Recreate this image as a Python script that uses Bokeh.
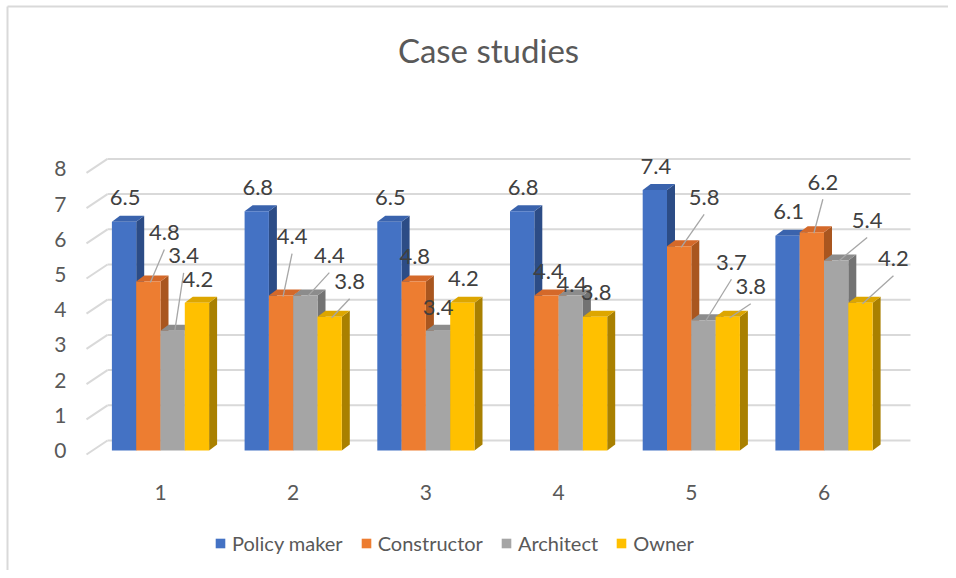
from bokeh.plotting import figure
from bokeh.models import Range1d, FixedTicker, Legend, LegendItem, Label
from bokeh.core.properties import value
from bokeh.embed import file_html
from bokeh.resources import INLINE

# ---------------- data ----------------
categories = [1, 2, 3, 4, 5, 6]
series_names = ["Policy maker", "Constructor", "Architect", "Owner"]
policy_maker = [6.5, 6.8, 6.5, 6.8, 7.4, 6.1]
constructor = [4.8, 4.4, 4.8, 4.4, 5.8, 6.2]
architect = [3.4, 4.4, 3.4, 4.4, 3.7, 5.4]
owner = [4.2, 3.8, 4.2, 3.8, 3.8, 4.2]
y_ticks = [0, 1, 2, 3, 4, 5, 6, 7, 8]
series_values = [policy_maker, constructor, architect, owner]
title_text = "Case studies"

# ---------------- style / layout ----------------
FONT = "Lato"
front_colors = ["#4472C4", "#ED7D31", "#A5A5A5", "#FFC000"]
top_colors = ["#3A63AD", "#D4692A", "#8C8C8C", "#DDA600"]
side_colors = ["#2C4C86", "#A9561F", "#737373", "#A98000"]

# data-label layout: (dx px, dy px from bar top, leader line?)
label_layout = [
    [(1, -24, 0), (1, -24, 0), (1, -24, 0), (1, -24, 0), (1, -24, 0), (1, -24, 0)],
    [(16, -49, 1), (11, -59, 1), (1, -25, 0), (2, -24, 0), (25, -49, 1), (11, -50, 1)],
    [(11, -75, 1), (24, -40, 1), (0, -23, 0), (1, -11, 0), (28, -58, 1), (31, -40, 1)],
    [(1, -23, 0), (20, -35, 1), (1, -24, 0), (1, -24, 0), (23, -30, 1), (33, -44, 1)],
]

W, H = 948, 570
XPX, YPX = 132.7, 35.2          # pixels per category / per value unit
CAT1_PX, ZERO_PX = 160, 450     # canvas px of category 1 centre and of value 0


def dx_(px):
    return px / XPX


def dy_(px):
    return px / YPX


def xdata(px):
    return 1 + (px - CAT1_PX) / XPX


def ydata(py):
    return (ZERO_PX - py) / YPX


X0, X1 = xdata(0), xdata(W)
Y0, Y1 = ydata(H), ydata(0)

BAR_W = dx_(24.3)
DX, DY = dx_(8), dy_(6)             # bar depth
WALL_DX, WALL_DY = dx_(21), dy_(10)  # back wall offset
FRONT_DY = dy_(4)
FRONT_X = xdata(86)                 # front edge of the floor / axis position

p = figure(width=W, height=H, output_backend="svg", toolbar_location=None,
           x_range=Range1d(X0, X1), y_range=Range1d(Y0, Y1),
           min_border=0)
p.outline_line_color = None
p.background_fill_color = "white"
p.border_fill_color = "white"
p.xgrid.visible = False
p.ygrid.visible = False

# axes drawn inside the canvas at fixed locations
p.yaxis.ticker = FixedTicker(ticks=y_ticks)
p.xaxis.ticker = FixedTicker(ticks=categories)
p.yaxis.fixed_location = FRONT_X
p.xaxis.fixed_location = ydata(470)
for ax in (p.xaxis, p.yaxis):
    ax.axis_line_color = None
    ax.major_tick_line_color = None
    ax.minor_tick_line_color = None
    ax.major_label_text_font = FONT
    ax.major_label_text_font_size = "21px"
    ax.major_label_text_color = "#595959"
p.yaxis.major_label_standoff = 14
p.xaxis.major_label_standoff = 8

# chart-area border (top and left edges)
bx, by = xdata(7), ydata(6)
p.segment(x0=[bx, bx], y0=[by, by], x1=[X1, bx], y1=[by, Y0], line_color="#D9D9D9", line_width=2)

# gridlines (3D wall)
x_back_left = FRONT_X + WALL_DX
x_back_right = xdata(910)
gx0, gy0, gx1, gy1 = [], [], [], []
for t in y_ticks:
    gx0 += [FRONT_X, x_back_left]
    gy0 += [t - FRONT_DY, t + WALL_DY]
    gx1 += [x_back_left, x_back_right]
    gy1 += [t + WALL_DY, t + WALL_DY]
p.segment(x0=gx0, y0=gy0, x1=gx1, y1=gy1, line_color="#D9D9D9", line_width=2)

# bars
legend_items = []
label_x, label_y, label_t = [], [], []
lx0, ly0, lx1, ly1 = [], [], [], []
for j, vals in enumerate(series_values):
    offs = (j - 1.5) * BAR_W
    cx = [c + offs for c in categories]
    xl = [c - BAR_W / 2 for c in cx]
    xr = [c + BAR_W / 2 for c in cx]
    side_xs = [[r, r + DX, r + DX, r] for r in xr]
    side_ys = [[0, DY, v + DY, v] for v in vals]
    top_xs = [[l, r, r + DX, l + DX] for l, r in zip(xl, xr)]
    top_ys = [[v, v, v + DY, v + DY] for v in vals]
    p.patches(side_xs, side_ys, fill_color=side_colors[j], line_color=None)
    p.patches(top_xs, top_ys, fill_color=top_colors[j], line_color=None)
    r = p.vbar(x=cx, top=vals, bottom=0, width=BAR_W, fill_color=front_colors[j], line_color=None)
    legend_items.append(LegendItem(label=series_names[j], renderers=[r]))
    for i, v in enumerate(vals):
        dxp, dyp, lead = label_layout[j][i]
        tx = cx[i] + dx_(dxp)
        ty = v - dy_(dyp)
        label_x.append(tx)
        label_y.append(ty)
        label_t.append(f"{v:.1f}")
        if lead:
            lx0.append(tx)
            ly0.append(ty - dy_(17))
            lx1.append(cx[i] + dx_(2))
            ly1.append(v - dy_(1))

p.segment(x0=lx0, y0=ly0, x1=lx1, y1=ly1, line_color="#A6A6A6", line_width=1.3)
p.text(x=label_x, y=label_y, text=label_t, text_font=value(FONT), text_font_size="22px",
       text_color="#404040", text_align="center", text_baseline="middle")

# title
p.add_layout(Label(x=xdata(488), y=ydata(49), text=title_text, text_font=FONT,
                   text_font_size="33px", text_color="#595959",
                   text_align="center", text_baseline="middle"))

legend = Legend(items=legend_items, orientation="horizontal", location=(214, H - 555),
                glyph_width=12, glyph_height=12, label_standoff=6, spacing=17,
                label_text_font=FONT, label_text_font_size="20px", label_text_color="#595959",
                border_line_color=None, background_fill_alpha=0, padding=0, margin=0,
                label_height=20)
p.add_layout(legend, "center")

open("out.html", "w").write(file_html(p, INLINE))
